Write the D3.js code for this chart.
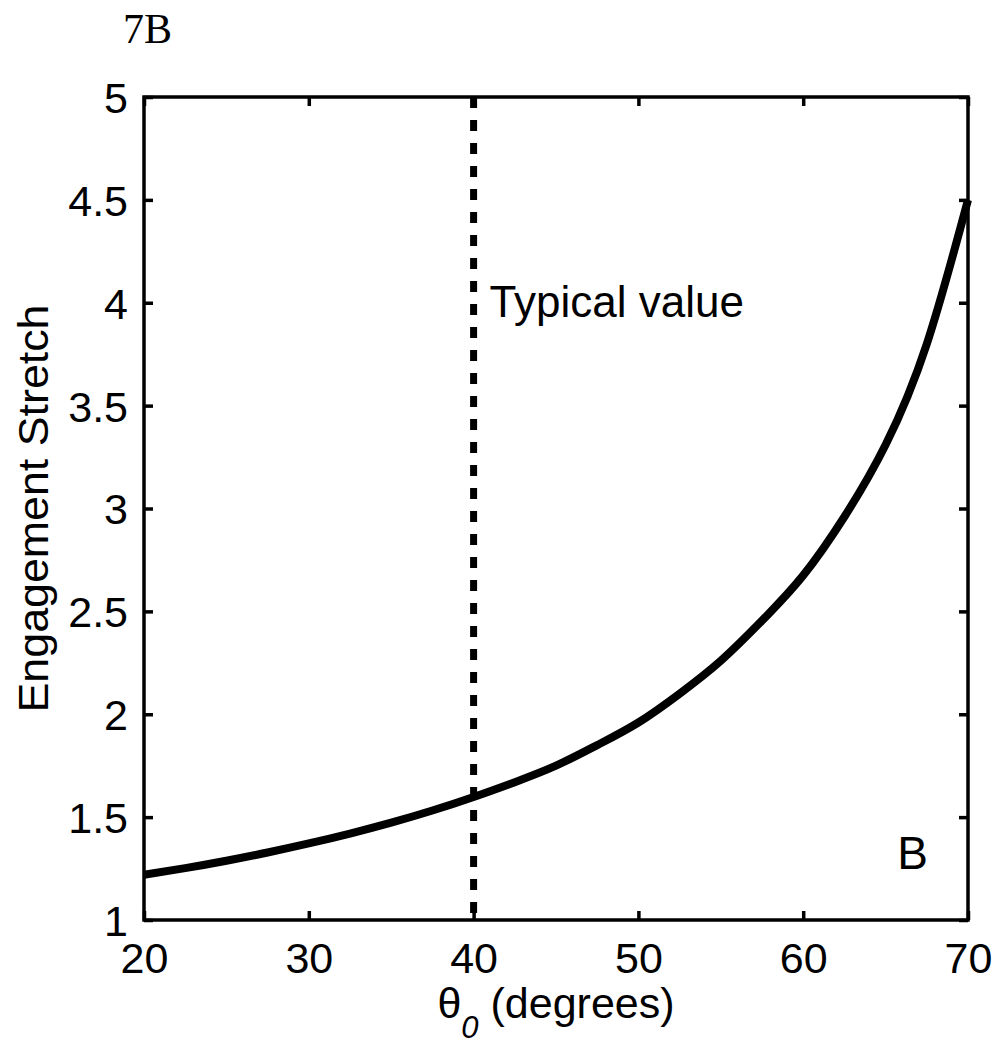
<!DOCTYPE html>
<html>
<head>
<meta charset="utf-8">
<script src="https://cdn.jsdelivr.net/npm/d3@7"></script>
<style>
  body { margin: 0; background: #fff; }
  svg text { font-family: "Liberation Sans", Arial, Helvetica, sans-serif; fill: #000; }
</style>
</head>
<body>
<div id="viz"></div>
<script>
// engagement stretch vs theta0
var thetaVals = [20, 22.5, 25, 27.5, 30, 32.5, 35, 37.5, 40, 42.5, 45, 47.5, 50, 52.5, 55, 57.5, 60, 62.5, 65, 67.5, 70];
var stretchVals = [1.22, 1.252, 1.288, 1.328, 1.372, 1.42, 1.473, 1.532, 1.598, 1.67, 1.75, 1.85, 1.96, 2.10, 2.26, 2.455, 2.675, 2.96, 3.31, 3.80, 4.50];
var xTicks = [20, 30, 40, 50, 60, 70];
var yTicks = [1, 1.5, 2, 2.5, 3, 3.5, 4, 4.5, 5];
var typicalTheta = 40;

var W = 1000, H = 1050;
var margin = { top: 97, right: 32, bottom: 130, left: 144 };
var width = W - margin.left - margin.right,
  height = H - margin.top - margin.bottom;

var svg = d3.select('#viz').append('svg')
  .attr('width', W)
  .attr('height', H);

// panel tag
svg.append('text')
  .attr('x', 123)
  .attr('y', 43)
  .style('font-family', '"Liberation Serif", "Times New Roman", serif')
  .style('font-size', '42px')
  .text('7B');

var g = svg.append('g')
  .attr('transform', 'translate(' + margin.left + ',' + margin.top + ')');

var x = d3.scaleLinear().domain([20, 70]).range([0, width]);
var y = d3.scaleLinear().domain([1, 5]).range([height, 0]);

var fmt = function (d) { return d3.format('')(d); };

// axes with inward ticks, matlab style
var xAxis = g.append('g')
  .attr('transform', 'translate(0,' + height + ')')
  .call(d3.axisBottom(x).tickValues(xTicks).tickSizeInner(-9).tickSizeOuter(0).tickPadding(22).tickFormat(fmt));
var xTop = g.append('g')
  .call(d3.axisTop(x).tickValues(xTicks).tickSizeInner(-9).tickSizeOuter(0).tickFormat(''));
var yAxis = g.append('g')
  .call(d3.axisLeft(y).tickValues(yTicks).tickSizeInner(-9).tickSizeOuter(0).tickPadding(16).tickFormat(fmt));
var yRight = g.append('g')
  .attr('transform', 'translate(' + width + ',0)')
  .call(d3.axisRight(y).tickValues(yTicks).tickSizeInner(-9).tickSizeOuter(0).tickFormat(''));

[xAxis, xTop, yAxis, yRight].forEach(function (a) {
  a.select('.domain').remove();
  a.selectAll('.tick line').attr('stroke', '#000').attr('stroke-width', 3.5);
  a.selectAll('.tick text').style('font-size', '43px');
});
xAxis.selectAll('.tick text').attr('dy', null).attr('y', 0).attr('transform', 'translate(0,' + 53 + ')');
yAxis.selectAll('.tick text').attr('dy', '0.36em');

// box
g.append('rect')
  .attr('x', 0).attr('y', 0)
  .attr('width', width).attr('height', height)
  .attr('fill', 'none')
  .attr('stroke', '#000')
  .attr('stroke-width', 3.5);

// typical value marker
g.append('line')
  .attr('x1', x(typicalTheta)).attr('x2', x(typicalTheta))
  .attr('y1', y(5)).attr('y2', y(1))
  .attr('stroke', '#000')
  .attr('stroke-width', 7)
  .attr('stroke-dasharray', '11,12');

g.append('text')
  .attr('x', x(typicalTheta) + 16)
  .attr('y', y(4) + 14)
  .style('font-size', '44px')
  .text('Typical value');

// curve
var data = thetaVals.map(function (t, i) { return [t, stretchVals[i]]; });
var line = d3.line()
  .x(function (d) { return x(d[0]); })
  .y(function (d) { return y(d[1]); })
  .curve(d3.curveNatural);

g.append('path')
  .datum(data)
  .attr('d', line)
  .attr('fill', 'none')
  .attr('stroke', '#000')
  .attr('stroke-width', 8)
  .attr('stroke-linejoin', 'round');

// corner letter
g.append('text')
  .attr('x', width - 40)
  .attr('y', y(1.25))
  .attr('text-anchor', 'end')
  .style('font-size', '46px')
  .text('B');

// axis labels
var xl = svg.append('text')
  .attr('x', margin.left + x(45))
  .attr('y', 1018)
  .attr('text-anchor', 'middle')
  .style('font-size', '43px');
xl.append('tspan').text('θ');
xl.append('tspan').attr('dy', 20).style('font-size', '31px').style('font-style', 'italic').text('0');
xl.append('tspan').attr('dy', -20).text(' (degrees)');

svg.append('text')
  .attr('transform', 'translate(48,' + (margin.top + y(3)) + ') rotate(-90)')
  .attr('text-anchor', 'middle')
  .attr('textLength', 408)
  .attr('lengthAdjust', 'spacingAndGlyphs')
  .style('font-size', '43px')
  .text('Engagement Stretch');
</script>
</body>
</html>
